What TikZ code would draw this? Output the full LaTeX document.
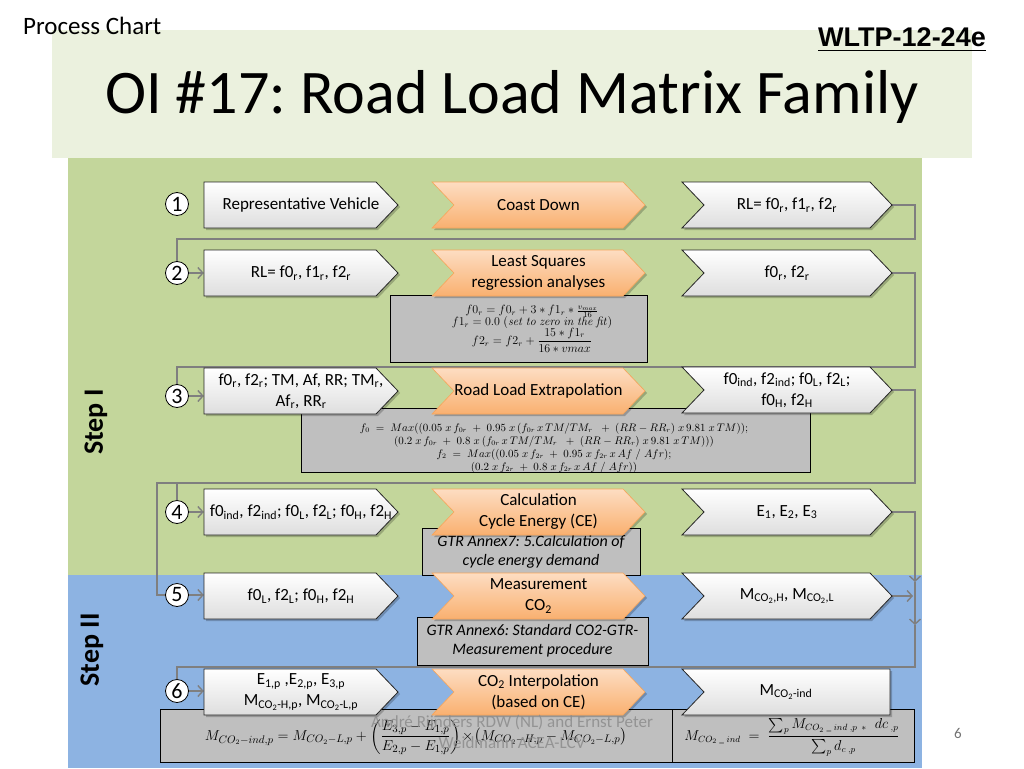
\documentclass[tikz,border=0pt]{standalone}
\usepackage{amsmath}
\usepackage[no-math]{fontspec}
\setmainfont{Carlito}
\newfontfamily\arialb{Liberation Sans}
\usetikzlibrary{arrows.meta}
\frenchspacing
\definecolor{bandc}{HTML}{EBF1DE}
\definecolor{greenp}{HTML}{C3D69B}
\definecolor{bluep}{HTML}{8DB3E2}
\definecolor{grayb}{HTML}{BFBFBF}
\definecolor{linec}{HTML}{7F7F7F}
\definecolor{orT}{HTML}{FDDDC2}
\definecolor{orB}{HTML}{F9B070}
\definecolor{orD}{HTML}{F7A55A}
\pgfdeclarelayer{background}\pgfdeclarelayer{conn}\pgfsetlayers{background,conn,main}
\newcommand\sbs[1]{\textsubscript{#1}}
\tikzset{
 wbox/.style={draw=black!85, line width=0.8pt, top color=white, bottom color=black!13},
 obox/.style={draw=orD, line width=0.6pt, top color=orT, bottom color=orB},
 shd/.style={fill=black, opacity=0.22},
 fbox/.style={draw=black, line width=0.9pt, fill=grayb, inner sep=0pt},
 lbl/.style={inner sep=0pt, minimum height=46pt, font=\fontsize{17}{21}\selectfont, align=center},
 ftxt/.style={inner sep=0pt, align=center},
 num/.style={circle, draw=black, fill=white, line width=0.8pt, minimum size=23pt, inner sep=0pt, font=\fontsize{22}{22}\selectfont},
 conn/.style={draw=linec, line width=1.6pt},
 arr/.style={conn, -{Straight Barb[length=5pt,width=11pt,line width=1.4pt]}},
}
\newcommand\lshape[1]{%
 \fill[shd] (206,{#1-21}) -- (378,{#1-21}) -- (400,{#1+2}) -- (378,{#1+25}) -- (206,{#1+25}) -- cycle;
 \path[wbox] (204,{#1-23}) -- (376,{#1-23}) -- (398,#1) -- (376,{#1+23}) -- (204,{#1+23}) -- cycle;}
\newcommand\oshape[1]{%
 \fill[shd] (434,{#1-21}) -- (625,{#1-21}) -- (647,{#1+2}) -- (625,{#1+25}) -- (434,{#1+25}) -- (456,{#1+2}) -- cycle;
 \path[obox] (432,{#1-23}) -- (623,{#1-23}) -- (645,#1) -- (623,{#1+23}) -- (432,{#1+23}) -- (454,#1) -- cycle;}
\newcommand\rshape[1]{%
 \fill[shd] (684,{#1-21}) -- (872,{#1-21}) -- (894,{#1+2}) -- (872,{#1+25}) -- (684,{#1+25}) -- (706,{#1+2}) -- cycle;
 \path[wbox] (682,{#1-23}) -- (870,{#1-23}) -- (892,#1) -- (870,{#1+23}) -- (682,{#1+23}) -- (704,#1) -- cycle;}
\newcommand\rflat[1]{%
 \fill[shd] (684,{#1-21}) -- (892,{#1-21}) -- (892,{#1+25}) -- (684,{#1+25}) -- (706,{#1+2}) -- cycle;
 \path[wbox] (682,{#1-23}) -- (890,{#1-23}) -- (890,{#1+23}) -- (682,{#1+23}) -- (704,#1) -- cycle;}
\begin{document}
\begin{tikzpicture}[x=1pt,y=-1pt]
\useasboundingbox (0,0) rectangle (1024,768);
\begin{pgfonlayer}{background}
 \fill[white] (0,0) rectangle (1024,768);
 \fill[bandc] (52,30) rectangle (972,158);
 \fill[greenp] (68,158) rectangle (922,575);
 \fill[bluep] (68,575) rectangle (922,768);
\end{pgfonlayer}
% headings
\node[anchor=west, inner sep=0, font=\fontsize{25}{27}\selectfont] (pc) at (23,26) {Process Chart};
\node[inner sep=0, font=\arialb\bfseries\fontsize{27}{29}\selectfont] (wl) at (902,40) {\underline{WLTP-12-24e}};
\node[inner sep=0, font=\fontsize{62}{66}\selectfont] (title) at (512,97) {OI \#17: Road Load Matrix Family};
\node[inner sep=0, rotate=90, font=\bfseries\fontsize{28}{30}\selectfont] (s1) at (96,422) {Step I};
\node[inner sep=0, rotate=90, font=\bfseries\fontsize{28}{30}\selectfont] (s2) at (92,650) {Step II};

% formula boxes (below the arrows)
\node[fbox, minimum width=257pt, minimum height=67pt] (g2) at (518.5,329) {};
\node[ftxt, font=\fontsize{12}{14}\selectfont] (t2) at (532,329) {$f0_r = f0_r + 3*f1_r*\frac{v_{max}}{16}$\\[-2pt] $f1_r = 0.0\;(\mathit{set\ to\ zero\ in\ the\ fit})$\\[-2pt] $f2_r = f2_r + \dfrac{15*f1_r}{16*vmax}$};
\node[fbox, minimum width=509pt, minimum height=64pt] (g3) at (555.5,440) {};
\node[ftxt, font=\fontsize{10.5}{13}\selectfont] (t3) at (554,448) {$f_0\; = \;Max((0.05\;x\,f_{0r}\; + \;0.95\;x\,(f_{0r}\,x\,TM/TM_r\;\; + \;(RR - RR_r)\;x\,9.81\;x\,TM));$\\ $(0.2\;x\,f_{0r}\; + \;0.8\;x\,(f_{0r}\,x\,TM/TM_r\;\; + \;(RR - RR_r)\;x\,9.81\;x\,TM)))$\\ $f_2\; = \;Max((0.05\;x\,f_{2r}\; + \;0.95\;x\,f_{2r}\,x\,Af\;/\;Afr);$\\ $(0.2\;x\,f_{2r}\; + \;0.8\;x\,f_{2r}\,x\,Af\;/\;Afr))$};
\node[fbox, minimum width=218pt, minimum height=47pt, font=\itshape\fontsize{16}{19}\selectfont, align=center] (g4) at (531,552) {GTR Annex7: 5.Calculation of\\cycle energy demand};
\node[fbox, minimum width=231pt, minimum height=48pt, font=\itshape\fontsize{16}{19}\selectfont, align=center] (g5) at (532.5,641) {GTR Annex6: Standard CO2-GTR-\\Measurement procedure};
\node[fbox, minimum width=512pt, minimum height=53pt] (g6a) at (416,736) {};
\node[ftxt, font=\fontsize{15}{17}\selectfont] (t6a) at (416,737) {$M_{CO_2-ind,p} = M_{CO_2-L,p} + \left(\dfrac{E_{3,p}-E_{1,p}}{E_{2,p}-E_{1,p}}\right)\!\times\!\left(M_{CO_2-H,p} - M_{CO_2-L,p}\right)$};
\node[fbox, minimum width=242pt, minimum height=53pt] (g6b) at (793,736) {};
\node[ftxt, font=\fontsize{13.5}{15}\selectfont] (t6b) at (792,737) {$M_{CO_2\;\_\;ind} \;=\; \dfrac{\sum_p M_{CO_2\;\_\;ind\;,p}\;{}_{*}\;\;dc_{\;,p}}{\sum_p d_{c\;,p}}$};

% row 1
\lshape{205}\oshape{205}\rshape{205}
\node[lbl, minimum width=194pt] (l1) at (301,205) {Representative Vehicle};
\node[lbl, minimum width=213pt] (o1) at (538.5,205) {Coast Down};
\node[lbl, minimum width=210pt] (r1) at (787,205) {RL= f0\sbs{r}, f1\sbs{r}, f2\sbs{r}};
% row 2
\lshape{273}\oshape{273}\rshape{273}
\node[lbl, minimum width=194pt] (l2) at (301,273) {RL= f0\sbs{r}, f1\sbs{r}, f2\sbs{r}};
\node[lbl, minimum width=213pt] (o2) at (538.5,273) {Least Squares\\regression analyses};
\node[lbl, minimum width=210pt] (r2) at (787,273) {f0\sbs{r}, f2\sbs{r}};
% row 3
\lshape{391}\oshape{391}\rshape{390}
\node[lbl, minimum width=194pt] (l3) at (301,391) {f0\sbs{r}, f2\sbs{r}; TM, Af, RR; TM\sbs{r},\\Af\sbs{r}, RR\sbs{r}};
\node[lbl, minimum width=213pt] (o3) at (538.5,391) {Road Load Extrapolation};
\node[lbl, minimum width=210pt] (r3) at (787,390) {f0\sbs{ind}, f2\sbs{ind}; f0\sbs{L}, f2\sbs{L};\\f0\sbs{H}, f2\sbs{H}};
% row 4
\lshape{512}\oshape{512}\rshape{512}
\node[lbl, minimum width=194pt] (l4) at (301,512) {f0\sbs{ind}, f2\sbs{ind}; f0\sbs{L}, f2\sbs{L}; f0\sbs{H}, f2\sbs{H}};
\node[lbl, minimum width=213pt] (o4) at (538.5,512) {Calculation\\Cycle Energy (CE)};
\node[lbl, minimum width=210pt] (r4) at (787,512) {E\sbs{1}, E\sbs{2}, E\sbs{3}};
% row 5
\lshape{596}\oshape{596}\rshape{596}
\node[lbl, minimum width=194pt] (l5) at (301,596) {f0\sbs{L}, f2\sbs{L}; f0\sbs{H}, f2\sbs{H}};
\node[lbl, minimum width=213pt] (o5) at (538.5,596) {Measurement\\CO\sbs{2}};
\node[lbl, minimum width=210pt] (r5) at (787,596) {M\sbs{CO\sbs{2},H}, M\sbs{CO\sbs{2},L}};
% row 6
\lshape{692}\oshape{692}\rflat{692}
\node[lbl, minimum width=194pt] (l6) at (301,692) {E\sbs{1,p} ,E\sbs{2,p}, E\sbs{3,p}\\M\sbs{CO\sbs{2}-H,p}, M\sbs{CO\sbs{2}-L,p}};
\node[lbl, minimum width=213pt] (o6) at (538.5,692) {CO\sbs{2} Interpolation\\(based on CE)};
\node[lbl, minimum width=208pt] (r6) at (786,692) {M\sbs{CO\sbs{2}-ind}};

% numbers
\node[num] (c1) at (177,204) {1};
\node[num] (c2) at (177,273) {2};
\node[num] (c3) at (177,396) {3};
\node[num] (c4) at (177,512) {4};
\node[num] (c5) at (177,595) {5};
\node[num] (c6) at (177,691) {6};

% connectors
\coordinate (k1) at (915,239);
\coordinate (k2) at (915,367);
\coordinate (k3) at (915,483);
\coordinate (k3b) at (157,483);
\coordinate (k4) at (915,582);
\coordinate (k4b) at (915,625);
\coordinate (k5) at (913,596);
\coordinate (k6) at (915,667);
\begin{pgfonlayer}{conn}
 \draw[conn] (r1.east) -| (k1) -| (c2.north);
 \draw[conn] (r2.east) -| (k2) -| (c3.north);
 \draw[conn] (r3.east) -| (k3) -- (k3b) |- (c5.west);
 \draw[conn] (c4.north) -- (c4.north |- k3b);
 \draw[arr] (r4.east) -| (k4);
 \draw[arr] (k4) -- (k4b);
 \draw[arr] (r5.east) -- (k5);
 \draw[conn] (k4b) -- (k6) -| (c6.north);
 \foreach \i in {2,...,6} \draw[arr] (c\i.east) -- (c\i.east -| l\i.west);
\end{pgfonlayer}

% footer
\node[ftxt, text=black!45, opacity=0.85, font=\fontsize{17}{21}\selectfont] (ft) at (512,732) {André Rijnders RDW (NL) and Ernst Peter\\Weidmann ACEA-LCV};
\node[inner sep=0, text=black!55, font=\fontsize{15}{16}\selectfont] (pg) at (958,733) {6};
\end{tikzpicture}
\end{document}
